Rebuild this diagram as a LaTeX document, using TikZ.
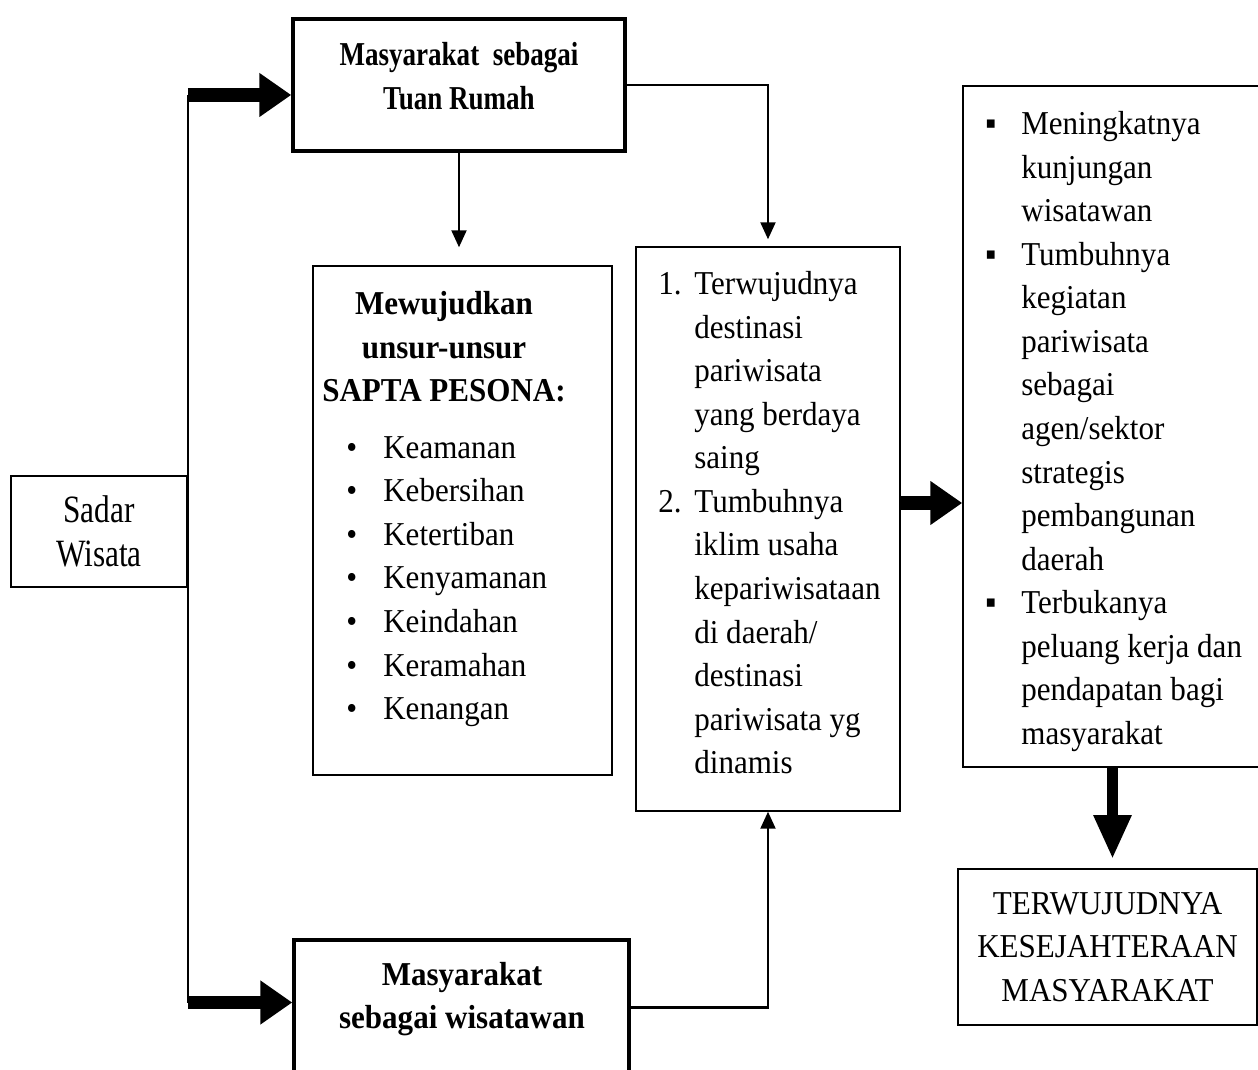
\documentclass[tikz,border=0pt]{standalone}
\usepackage{fontspec}
\setmainfont{Liberation Serif}[FakeStretch=0.93]
\newfontfamily\narrowfont{Liberation Serif}[FakeStretch=0.81]
\usepackage{tikz}
\usetikzlibrary{arrows.meta, positioning}

\begin{document}
\begin{tikzpicture}[
  x=0.02cm, y=-0.02cm,
  boxnode/.style={draw, line width=0.9pt, inner sep=0pt, align=center,
    font=\fontsize{19}{24.8}\selectfont},
  thickbox/.style={boxnode, line width=2pt},
  txt/.style={inner sep=0pt, font=\fontsize{19}{24.8}\selectfont},
  bigarrow/.style={line width=0.27cm, -{Triangle[length=0.64cm, width=0.84cm]}},
  thinarrow/.style={line width=1.2pt, -{Triangle[length=0.34cm, width=0.3cm]}}
]
\useasboundingbox (0,0) rectangle (1258,1070);
\clip (0,0) rectangle (1258,1070);

% boxes
\node[boxnode, minimum width=3.52cm, minimum height=2.22cm,
  font=\fontsize{22}{24.8}\narrowfont] (sadar) at (99,531.5) {Sadar\\Wisata};
\node[thickbox, minimum width=6.64cm, minimum height=2.64cm] (tuan) at (459,85) {};
\node[boxnode, minimum width=5.98cm, minimum height=10.18cm] (sapta) at (462.5,520.5) {};
\node[boxnode, minimum width=5.28cm, minimum height=11.28cm] (hasil) at (768,529) {};
\node[boxnode, minimum width=5.98cm, minimum height=13.62cm] (dampak) at (1112.5,426.5) {};
\node[boxnode, minimum width=5.98cm, minimum height=3.12cm] (sejahtera) at (1107.5,947) {TERWUJUDNYA\\KESEJAHTERAAN\\MASYARAKAT};
\node[thickbox, minimum width=6.70cm, minimum height=2.7cm] (wisatawan) at (461.5,1007.5) {};

% texts
\node[txt, align=center, font=\fontsize{19}{24.8}\narrowfont\bfseries] (tuan-txt) at (459,76)
  {Masyarakat\ \ sebagai\\Tuan Rumah};
\node[txt, align=center, font=\fontsize{19}{24.8}\selectfont\bfseries] (sapta-head) at (444,347)
  {Mewujudkan\\unsur-unsur\\SAPTA PESONA:};
\node[txt, align=left, anchor=north west] (sapta-list) at (346,436)
  {\makebox[0.74cm][l]{•}Keamanan\\
   \makebox[0.74cm][l]{•}Kebersihan\\
   \makebox[0.74cm][l]{•}Ketertiban\\
   \makebox[0.74cm][l]{•}Kenyamanan\\
   \makebox[0.74cm][l]{•}Keindahan\\
   \makebox[0.74cm][l]{•}Keramahan\\
   \makebox[0.74cm][l]{•}Kenangan};
\node[txt, align=left, anchor=north west] (hasil-list) at (658,271)
  {\makebox[0.72cm][l]{1.}Terwujudnya\\
   \hspace*{0.72cm}destinasi\\
   \hspace*{0.72cm}pariwisata\\
   \hspace*{0.72cm}yang berdaya\\
   \hspace*{0.72cm}saing\\
   \makebox[0.72cm][l]{2.}Tumbuhnya\\
   \hspace*{0.72cm}iklim usaha\\
   \hspace*{0.72cm}kepariwisataan\\
   \hspace*{0.72cm}di daerah/\\
   \hspace*{0.72cm}destinasi\\
   \hspace*{0.72cm}pariwisata yg\\
   \hspace*{0.72cm}dinamis};
\node[txt, align=left, anchor=north west] (dampak-list) at (985,111)
  {\makebox[0.72cm][l]{▪}Meningkatnya\\
   \hspace*{0.72cm}kunjungan\\
   \hspace*{0.72cm}wisatawan\\
   \makebox[0.72cm][l]{▪}Tumbuhnya\\
   \hspace*{0.72cm}kegiatan\\
   \hspace*{0.72cm}pariwisata\\
   \hspace*{0.72cm}sebagai\\
   \hspace*{0.72cm}agen/sektor\\
   \hspace*{0.72cm}strategis\\
   \hspace*{0.72cm}pembangunan\\
   \hspace*{0.72cm}daerah\\
   \makebox[0.72cm][l]{▪}Terbukanya\\
   \hspace*{0.72cm}peluang kerja dan\\
   \hspace*{0.72cm}pendapatan bagi\\
   \hspace*{0.72cm}masyarakat};
\node[txt, align=center, font=\fontsize{19}{24.8}\selectfont\bfseries] (wisatawan-txt) at (462,999)
  {Masyarakat\\sebagai wisatawan};

% connectors
\coordinate (tuan-in) at ([yshift=-0.2cm]tuan.west);
\coordinate (wis-in) at ([yshift=0.1cm]wisatawan.west);
\coordinate (sapta-in) at ([yshift=0.36cm]sapta.north);
\coordinate (hasil-in) at ([yshift=0.14cm]hasil.north);
\coordinate (hasil-out) at ([yshift=0.52cm]hasil.east);
\coordinate (sejahtera-in) at ([yshift=0.18cm]sejahtera.north -| dampak.south);

\draw[line width=1.2pt] (sadar.east |- tuan-in) -- (sadar.east |- wis-in);
\draw[bigarrow] (sadar.east |- tuan-in) -- (tuan-in);
\draw[bigarrow] (sadar.east |- wis-in) -- (wis-in);
\draw[thinarrow] (tuan.south) -- (tuan.south |- sapta-in);
\draw[thinarrow] (tuan.east) -| (hasil-in);
\draw[thinarrow] (wisatawan.east) -| (hasil.south);
\draw[bigarrow] (hasil-out) -- (hasil-out -| dampak.west);
\draw[line width=0.23cm, -{Triangle[length=0.88cm, width=0.7cm]}] (dampak.south) -- (sejahtera-in);

\end{tikzpicture}
\end{document}
